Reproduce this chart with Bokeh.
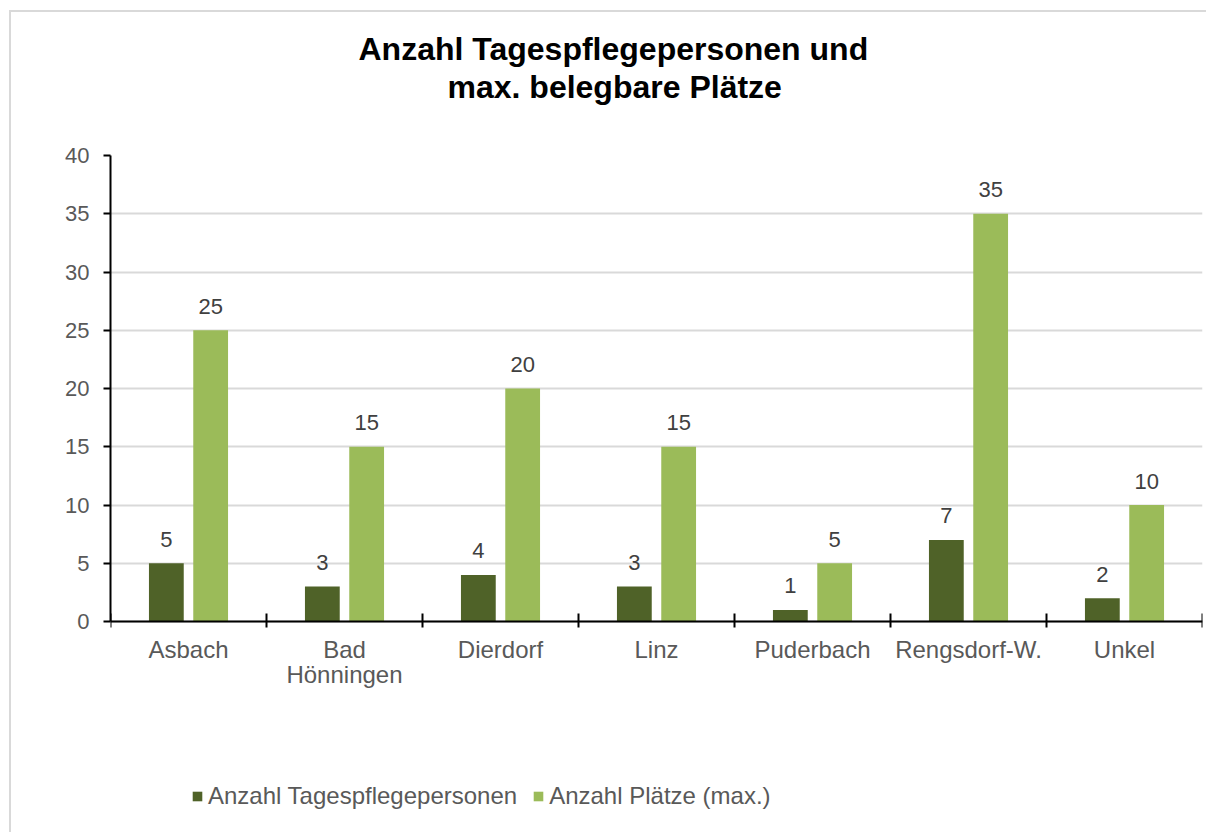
from bokeh.plotting import figure
from bokeh.models import ColumnDataSource, FixedTicker, Legend, LegendItem, Range1d, Title
from bokeh.embed import file_html
from bokeh.resources import INLINE
from bokeh.core.properties import value

title_lines = ["Anzahl Tagespflegepersonen und", "max. belegbare Plätze"]
categories = ["Asbach", "Bad\nHönningen", "Dierdorf", "Linz", "Puderbach", "Rengsdorf-W.", "Unkel"]
personen = [5, 3, 4, 3, 1, 7, 2]
plaetze = [25, 15, 20, 15, 5, 35, 10]
y_ticks = [0, 5, 10, 15, 20, 25, 30, 35, 40]
series_names = ["Anzahl Tagespflegepersonen", "Anzahl Plätze (max.)"]

DARK = "#4F6228"
LIGHT = "#9BBB59"
FONT = "Liberation Sans"

centers = [i + 0.5 for i in range(len(categories))]
off = 0.142
bw = 0.223
src1 = ColumnDataSource(dict(x=[c - off for c in centers], top=personen, lab=[str(v) for v in personen]))
src2 = ColumnDataSource(dict(x=[c + off for c in centers], top=plaetze, lab=[str(v) for v in plaetze]))

# frame runs from the 40 gridline down to the bottom of the canvas; extra room below 0 holds
# the category labels and the legend
Y_MIN = -18.28
p = figure(width=1197, height=822, output_backend="svg", toolbar_location=None,
           x_range=Range1d(0, len(categories)), y_range=Range1d(Y_MIN, 40),
           min_border_left=99, min_border_right=6, min_border_top=143, min_border_bottom=0,
           styles={"border-top": "2px solid #D9D9D9", "border-left": "2px solid #D9D9D9",
                   "margin-left": "9px", "margin-top": "10px"})
p.outline_line_color = None
p.background_fill_color = "white"
p.border_fill_color = "white"

def title_style(t, off_px):
    t.align = "left"
    t.offset = off_px
    t.standoff = 0
    t.text_font = FONT
    t.text_font_size = "32px"
    t.text_font_style = "bold"
    t.text_color = "black"

# spacer between frame and title (layout only)
p.add_layout(Title(text=" ", text_font_size="44px", standoff=0), "above")
p.title.text = title_lines[0]
title_style(p.title, 248)
t2 = Title(text=title_lines[1])
title_style(t2, 337)
p.add_layout(t2, "above")

p.xgrid.visible = False
p.ygrid.grid_line_color = "#D9D9D9"
p.ygrid.grid_line_width = 2
p.ygrid.ticker = FixedTicker(ticks=y_ticks)

r1 = p.vbar(x="x", top="top", width=bw, source=src1, fill_color=DARK, line_color=None)
r2 = p.vbar(x="x", top="top", width=bw, source=src2, fill_color=LIGHT, line_color=None)

for s in (src1, src2):
    p.text(x="x", y="top", text="lab", source=s, text_align="center", text_baseline="alphabetic",
           y_offset=-24, text_font=value(FONT), text_font_size="22px", text_color="#404040")

xa = p.xaxis[0]
xa.fixed_location = 0
xa.ticker = FixedTicker(ticks=centers, minor_ticks=list(range(len(categories) + 1)))
xa.major_label_overrides = {c: lab for c, lab in zip(centers, categories)}
xa.major_tick_line_color = None
xa.minor_tick_line_color = "black"
xa.minor_tick_line_width = 2
xa.minor_tick_in = 8
xa.minor_tick_out = 6
xa.axis_line_color = "black"
xa.axis_line_width = 2
xa.major_label_text_font = FONT
xa.major_label_text_font_size = "24px"
xa.major_label_text_line_height = 0.95
xa.major_label_text_color = "#595959"
xa.major_label_standoff = 8

ya = p.yaxis[0]
ya.bounds = (0, 40)
ya.ticker = FixedTicker(ticks=y_ticks)
ya.major_tick_in = 0
ya.major_tick_out = 7
ya.major_tick_line_color = "black"
ya.major_tick_line_width = 2
ya.minor_tick_line_color = None
ya.axis_line_color = "black"
ya.axis_line_width = 2
ya.major_label_text_font = FONT
ya.major_label_text_font_size = "22px"
ya.major_label_text_color = "#595959"
ya.major_label_standoff = 14

legend = Legend(items=[LegendItem(label=series_names[0], renderers=[r1]),
                       LegendItem(label=series_names[1], renderers=[r2])],
                orientation="horizontal", location=(81, 24), padding=0, margin=0,
                glyph_width=12, glyph_height=12, label_height=24, label_standoff=5, spacing=15,
                label_text_font=FONT, label_text_font_size="24px", label_text_color="#595959",
                border_line_color=None, background_fill_alpha=0)
p.add_layout(legend, "center")

open("out.html", "w").write(file_html(p, INLINE))
